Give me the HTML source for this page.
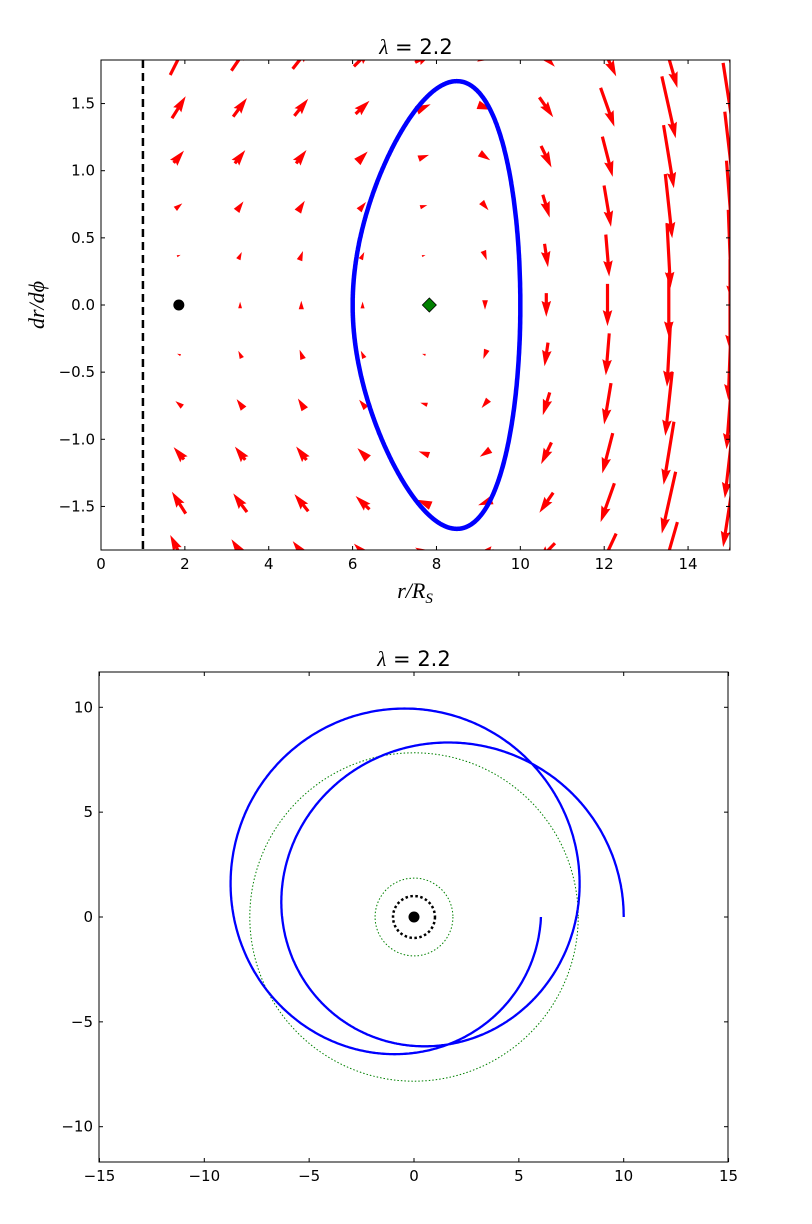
<!DOCTYPE html>
<html><head><meta charset="utf-8"><style>
body{margin:0;background:#fff;}
svg{display:block;font-family:"DejaVu Sans","Liberation Sans",sans-serif;}
</style></head><body>
<svg id="s" width="812" height="1224" viewBox="0 0 812 1224" xmlns="http://www.w3.org/2000/svg">
<rect width="812" height="1224" fill="#fff"/>
<defs>
<clipPath id="c1"><rect x="101" y="60" width="629" height="490"/></clipPath>
<clipPath id="c2"><rect x="99" y="672" width="629" height="490"/></clipPath>
</defs>
<g id="gtop" clip-path="url(#c1)"></g>
<g id="gbot" clip-path="url(#c2)"></g>
<g id="gaxes"></g>
<text x="416" y="54" font-size="21" text-anchor="middle"><tspan font-family="Liberation Serif,serif" font-style="italic">λ</tspan> = 2.2</text>
<text x="414" y="666" font-size="21" text-anchor="middle"><tspan font-family="Liberation Serif,serif" font-style="italic">λ</tspan> = 2.2</text>
<text x="415" y="598" font-size="22" text-anchor="middle" font-family="Liberation Serif,serif" font-style="italic">r/R<tspan font-size="15" dy="5">S</tspan></text>
<text transform="translate(44,305) rotate(-90)" font-size="22" text-anchor="middle" font-family="Liberation Serif,serif" font-style="italic">dr/dϕ</text>
</svg>
<script>
(function(){
var NS="http://www.w3.org/2000/svg";
function el(p,t,a){var e=document.createElementNS(NS,t);for(var k in a)e.setAttribute(k,a[k]);p.appendChild(e);return e;}
var L=2.2,A=1/(2*L*L);
function accA(r,v,a){return 2*v*v/r + r - r*r*a - 1.5;}
function acc(r,v){return accA(r,v,A);}
function tx(x){return 101+x*629/15;} function ty(y){return 305-y*134.3;}
function bx(x){return 414+x*20.97;} function by(y){return 917-y*20.97;}
var gt=document.getElementById('gtop'),gb=document.getElementById('gbot'),ax=document.getElementById('gaxes');
el(gt,'line',{x1:tx(1),y1:60,x2:tx(1),y2:550,stroke:'#000','stroke-width':2.5,'stroke-dasharray':'8,5'});
var k=9.4,w=3.2;
for(var i=0;i<10;i++){var r=1.856+i*(15-1.856)/9;
 for(var j=-5;j<=5;j++){var v=j*0.368;
  var dx=k*v,dy=-k*acc(r,v);var len=Math.hypot(dx,dy);if(len<0.5)continue;
  var ux=dx/len,uy=dy/len,px=-uy,py=ux;
  var cx=tx(r),cy=ty(v);
  var hl=5*w,hw=3*w,hal=4.5*w,sw=w;
  var s=1;if(len<hl){s=len/hl;}
  hl*=s;hw*=s;hal*=s;sw*=s;
  var x0=cx-ux*len/2,y0=cy-uy*len/2,x1=cx+ux*len/2,y1=cy+uy*len/2;
  var bxp=x1-ux*hal,byp=y1-uy*hal,hx=x1-ux*hl,hy=y1-uy*hl;
  var pts=[[x0+px*sw/2,y0+py*sw/2],[bxp+px*sw/2,byp+py*sw/2],[hx+px*hw/2,hy+py*hw/2],[x1,y1],[hx-px*hw/2,hy-py*hw/2],[bxp-px*sw/2,byp-py*sw/2],[x0-px*sw/2,y0-py*sw/2]];
  if(len<5*w){pts=[[x0,y0],[hx+px*hw/2,hy+py*hw/2],[x1,y1],[hx-px*hw/2,hy-py*hw/2]];}
  el(gt,'polygon',{points:pts.map(function(p){return p[0].toFixed(1)+','+p[1].toFixed(1)}).join(' '),fill:'#f00'});
 }}
var A2=0.1061;
var r=10,v=0,phi=0,h=0.002,tp=[],bp=[];
function f(r,v){return [v,accA(r,v,A2)];}
var N=Math.round(4*Math.PI/h);
for(var n=0;n<=N;n++){
 if(n%5==0||n==N){tp.push(tx(r).toFixed(1)+','+ty(v).toFixed(1));bp.push(bx(r*Math.cos(phi)).toFixed(1)+','+by(r*Math.sin(phi)).toFixed(1));}
 var k1=f(r,v),k2=f(r+h/2*k1[0],v+h/2*k1[1]),k3=f(r+h/2*k2[0],v+h/2*k2[1]),k4=f(r+h*k3[0],v+h*k3[1]);
 r+=h/6*(k1[0]+2*k2[0]+2*k3[0]+k4[0]);v+=h/6*(k1[1]+2*k2[1]+2*k3[1]+k4[1]);phi+=h;
}
el(gt,'polyline',{points:tp.join(' '),fill:'none',stroke:'#00f','stroke-width':4.5,'stroke-linejoin':'round'});
el(gt,'circle',{cx:tx(1.856),cy:ty(0),r:5.5,fill:'#000'});
var ddx=tx(7.83),ddy=ty(0);
el(gt,'polygon',{points:(ddx-7)+','+ddy+' '+ddx+','+(ddy-7)+' '+(ddx+7)+','+ddy+' '+ddx+','+(ddy+7),fill:'#008000',stroke:'#000','stroke-width':0.8});
el(gb,'circle',{cx:414,cy:917,r:7.83*20.97,fill:'none',stroke:'#008000','stroke-width':1,'stroke-dasharray':'1.5,2'});
el(gb,'circle',{cx:414,cy:917,r:1.856*20.97,fill:'none',stroke:'#008000','stroke-width':1,'stroke-dasharray':'1.5,2'});
el(gb,'circle',{cx:414,cy:917,r:20.97,fill:'none',stroke:'#000','stroke-width':2.5,'stroke-dasharray':'2.5,2.5'});
el(gb,'polyline',{points:bp.join(' '),fill:'none',stroke:'#00f','stroke-width':2.3});
el(gb,'circle',{cx:414,cy:917,r:5.5,fill:'#000'});
function frame(x,y,wd,ht){el(ax,'rect',{x:x,y:y,width:wd,height:ht,fill:'none',stroke:'#000','stroke-width':1});}
frame(101,60,629,490);frame(99,672,629,490);
function xt(x,y0,y1,lab){el(ax,'line',{x1:x,y1:y1,x2:x,y2:y1-4,stroke:'#000'});el(ax,'line',{x1:x,y1:y0,x2:x,y2:y0+4,stroke:'#000'});
 var t=el(ax,'text',{x:x,y:y1+19,'font-size':15,'text-anchor':'middle'});t.textContent=lab;}
function yt(y,x0,x1,lab){el(ax,'line',{x1:x0,y1:y,x2:x0+4,y2:y,stroke:'#000'});el(ax,'line',{x1:x1,y1:y,x2:x1-4,y2:y,stroke:'#000'});
 var t=el(ax,'text',{x:x0-6,y:y+5,'font-size':15,'text-anchor':'end'});t.textContent=lab;}
for(var i=0;i<=14;i+=2)xt(tx(i),60,550,''+i);
[-1.5,-1,-0.5,0,0.5,1,1.5].forEach(function(y){yt(ty(y),101,730,(y<0?'\u2212':'')+Math.abs(y).toFixed(1));});
for(var i=-15;i<=15;i+=5)xt(bx(i),672,1162,(i<0?'\u2212':'')+Math.abs(i));
for(var i=-10;i<=10;i+=5)yt(by(i),99,728,(i<0?'\u2212':'')+Math.abs(i));
})();
</script>
</body></html>
